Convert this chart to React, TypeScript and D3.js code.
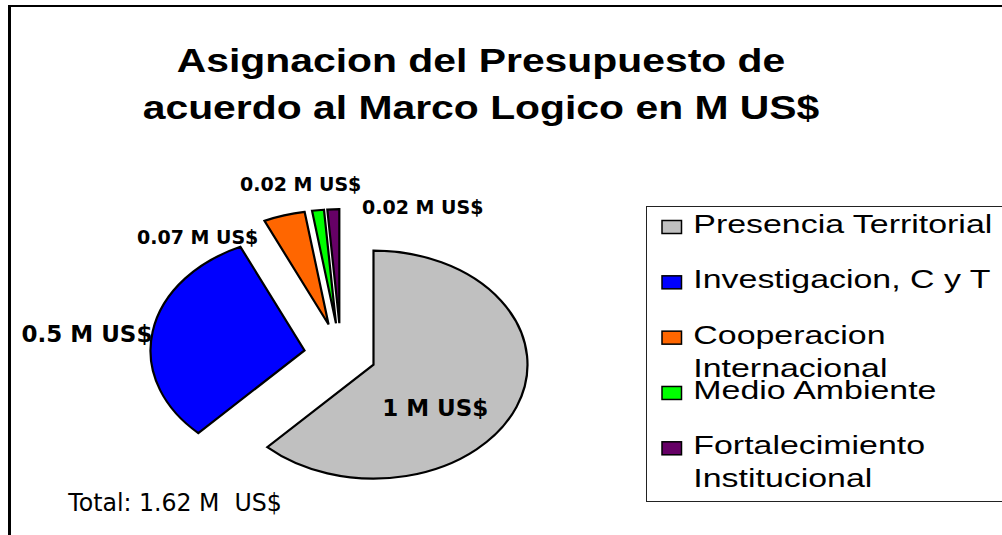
import React from "react";
import * as d3 from "d3";

const categories = [
  "Presencia Territorial",
  "Investigacion, C y T",
  "Cooperacion Internacional",
  "Medio Ambiente",
  "Fortalecimiento Institucional",
];
const values = [1, 0.5, 0.07, 0.02, 0.02];
const valueLabels = ["1 M US$", "0.5 M US$", "0.07 M US$", "0.02 M US$", "0.02 M US$"];
const legendLines = [
  ["Presencia Territorial"],
  ["Investigacion, C y T"],
  ["Cooperacion", "Internacional"],
  ["Medio Ambiente"],
  ["Fortalecimiento", "Institucional"],
];
const colors = ["#C0C0C0", "#0000FF", "#FF6600", "#00FF00", "#660066"];
const titleLines = ["Asignacion del Presupuesto de", "acuerdo al Marco Logico en M US$"];
const totalText = "Total: 1.62 M\u00A0 US$";

// layout
const W = 1002;
const H = 535;
const CX = 341;
const CY = 355;
const RX = 154;
const RY = 114;
const K = RY / RX;
const explode = [35, 37, 43, 43, 43];
const labelOffsets: [number, number, number][] = [
  // dx, dy from slice apex, font size
  [8.7, 51, 23],
  [-283, -8, 23],
  [-191.6, -80.7, 19],
  [-96, -132.7, 19],
  [22.7, -108.7, 19],
];

export default function App() {
  const pie = d3
    .pie<number>()
    .sort(null)
    .value((d) => d)
    .startAngle(0)
    .endAngle(2 * Math.PI);
  const arcs = pie(values);
  const arc = d3.arc<d3.PieArcDatum<number>>().innerRadius(0).outerRadius(RX);

  const apex = arcs.map((a, i) => {
    const mid = (a.startAngle + a.endAngle) / 2;
    return [CX + explode[i] * Math.sin(mid), CY - explode[i] * Math.cos(mid) * K];
  });

  const legendY = d3.scaleLinear().domain([0, 4]).range([233, 454.3]);

  return (
    <svg
      width={W}
      height={H}
      style={{ position: "absolute", left: 0, top: 0, background: "#fff" }}
    >
      <rect x={0} y={0} width={W} height={H} fill="#fff" />
      {/* frame */}
      <line x1={9.5} y1={6} x2={9.5} y2={H + 5} stroke="#000" strokeWidth={3} />
      <line x1={8} y1={6} x2={W + 5} y2={6} stroke="#000" strokeWidth={2} />

      {/* title */}
      {titleLines.map((t, i) => (
        <text
          key={i}
          transform={`translate(481, ${72 + i * 47}) scale(1.22, 1)`}
          textAnchor="middle"
          fontFamily="'Liberation Sans', Arial, sans-serif"
          fontWeight="bold"
          fontSize={33.5}
          fill="#000"
        >
          {t}
        </text>
      ))}

      {/* pie */}
      {arcs.map((a, i) => (
        <g key={categories[i]} transform={`translate(${apex[i][0]}, ${apex[i][1]}) scale(1, ${K})`}>
          <path
            d={arc(a) || ""}
            fill={colors[i]}
            stroke="#000"
            strokeWidth={2.2}
            strokeLinejoin="miter"
            vectorEffect="non-scaling-stroke"
          />
        </g>
      ))}

      {/* data labels */}
      {arcs.map((a, i) => (
        <text
          key={"l" + i}
          x={apex[i][0] + labelOffsets[i][0]}
          y={apex[i][1] + labelOffsets[i][1]}
          fontFamily="'DejaVu Sans', Verdana, sans-serif"
          fontWeight="bold"
          fontSize={labelOffsets[i][2]}
          fill="#000"
        >
          {valueLabels[i]}
        </text>
      ))}

      {/* total */}
      <text
        transform={`translate(68.3, 510.7) scale(0.985, 1)`}
        fontFamily="'DejaVu Sans', Verdana, sans-serif"
        fontSize={24}
        fill="#000"
        style={{ whiteSpace: "pre" }}
      >
        {totalText}
      </text>

      {/* legend */}
      <rect x={646.5} y={206.5} width={W} height={295} fill="#fff" stroke="#222" strokeWidth={1} />
      {categories.map((c, i) => {
        const by = legendY(i);
        return (
          <g key={"lg" + i}>
            <rect
              x={662}
              y={by - 12.5}
              width={19.5}
              height={13}
              fill={colors[i]}
              stroke="#000"
              strokeWidth={1.5}
            />
            {legendLines[i].map((ln, j) => (
              <text
                key={j}
                transform={`translate(693.3, ${by + j * 33}) scale(1.28, 1)`}
                fontFamily="'Liberation Sans', Arial, sans-serif"
                fontSize={26.5}
                fill="#000"
              >
                {ln}
              </text>
            ))}
          </g>
        );
      })}
    </svg>
  );
}
